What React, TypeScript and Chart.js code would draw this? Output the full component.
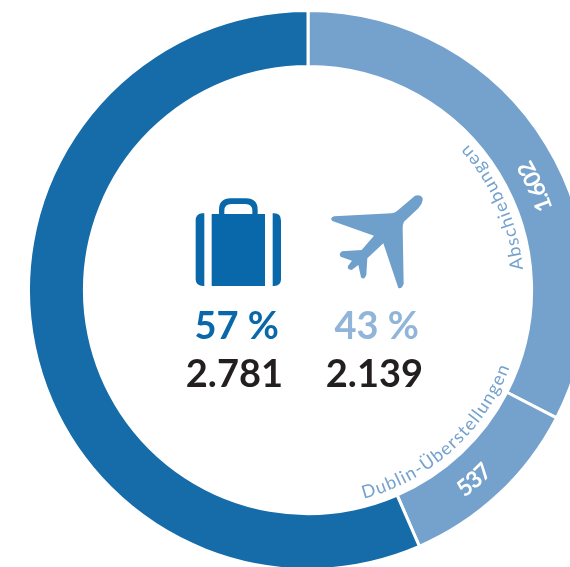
import React, { useEffect, useRef } from "react";
import { Chart, registerables } from "chart.js";

Chart.register(...registerables);

const categories = ["Abschiebungen", "Dublin-Überstellungen", "Freiwillige Ausreisen"];
const values = [1602, 537, 2781];
const valueLabels = ["1.602", "537"];
const colors = ["#74a2cd", "#74a2cd", "#156ca8"];
const percentLabels = ["57 %", "43 %"];
const totalLabels = ["2.781", "2.139"];

const CX = 308;
const CY = 290;
const CANVAS = 562;
const FONT = "Lato, 'Open Sans', sans-serif";

function arc(r: number, fromDeg: number, toDeg: number) {
  const p = (d: number) => {
    const a = (d * Math.PI) / 180;
    return `${(CX + r * Math.sin(a)).toFixed(2)} ${(CY - r * Math.cos(a)).toFixed(2)}`;
  };
  return `M ${p(fromDeg)} A ${r} ${r} 0 0 0 ${p(toDeg)}`;
}

export default function App() {
  const ref = useRef<HTMLCanvasElement>(null);
  useEffect(() => {
    document.body.style.margin = "0";
    const chart = new Chart(ref.current!, {
      type: "doughnut",
      data: {
        labels: categories,
        datasets: [
          { data: values, backgroundColor: colors, borderColor: "#ffffff", borderWidth: 3 },
        ],
      },
      options: {
        animation: false,
        responsive: false,
        cutout: "80%",
        rotation: 0,
        layout: { padding: 0 },
        plugins: { legend: { display: false }, tooltip: { enabled: false } },
      },
    });
    return () => chart.destroy();
  }, []);

  const curved = [
    { id: "a", r: 216, from: 84.5, to: 40, text: categories[0], size: 18, weight: 400, fill: "#74a2cd", len: 139 },
    { id: "b", r: 216, from: 165, to: 105, text: categories[1], size: 18, weight: 400, fill: "#74a2cd", len: 203 },
    { id: "c", r: 258, from: 71.5, to: 45, text: valueLabels[0], size: 23, weight: 700, fill: "#ffffff", len: 54 },
    { id: "d", r: 260, from: 143, to: 120, text: valueLabels[1], size: 23, weight: 700, fill: "#ffffff", len: 38 },
  ];

  return (
    <div style={{ position: "fixed", left: 0, top: 0, width: 570, height: 567, overflow: "hidden", background: "#fff" }}>
      <canvas
        ref={ref}
        width={CANVAS}
        height={CANVAS}
        style={{ position: "absolute", left: CX - CANVAS / 2, top: CY - CANVAS / 2, width: CANVAS, height: CANVAS }}
      />
      <svg width={570} height={567} style={{ position: "absolute", left: 0, top: 0 }}>
        <defs>
          {curved.map((c) => (
            <path key={c.id} id={`arc-${c.id}`} d={arc(c.r, c.from, c.to)} fill="none" />
          ))}
        </defs>
        {curved.map((c) => (
          <text key={c.id} fontFamily={FONT} fontSize={c.size} fontWeight={c.weight} fill={c.fill}>
            <textPath href={`#arc-${c.id}`} textLength={c.len} lengthAdjust="spacing">
              {c.text}
            </textPath>
          </text>
        ))}
        <g transform="translate(170 180) scale(0.33333)" fill="#0868a9">
          <path d="M103 100 H95 Q77 102 77 122 V298 Q77 318 100 318 H103 Z" />
          <path d="M308 100 H312 Q333 100 333 122 V298 Q333 318 312 318 H308 Z" />
          <path fillRule="evenodd" d="M125 102 H147 V90 Q147 55 182 55 H228 Q263 55 263 90 V102 H285 V318 H125 Z M163 102 H247 V92 Q247 72 226 72 H184 Q163 72 163 92 Z" />
        </g>
        <g transform="translate(170 180) scale(0.33333)" fill="#6fa0cc">
          <path d="M735 47 Q752 42 758 55 Q760 68 745 85 L702 125 Q698 132 698 145 L701 312 Q695 328 685 324 L640 190 L592 235 L589 285 Q582 302 573 292 L565 255 L545 270 Q530 268 534 258 L546 242 L512 230 Q505 222 516 214 L575 210 L612 167 L487 123 Q478 115 492 109 L665 100 Q675 98 682 92 Z" />
        </g>
        <text x={279} y={339} textAnchor="end" fontFamily={FONT} fontSize={38} fontWeight={700} fill="#0868a9">{percentLabels[0]}</text>
        <text x={419} y={339} textAnchor="end" fontFamily={FONT} fontSize={38} fontWeight={700} fill="#90b5d9">{percentLabels[1]}</text>
        <text x={283} y={387} textAnchor="end" fontFamily={FONT} fontSize={38} fontWeight={700} fill="#231f20">{totalLabels[0]}</text>
        <text x={423} y={387} textAnchor="end" fontFamily={FONT} fontSize={38} fontWeight={700} fill="#231f20">{totalLabels[1]}</text>
      </svg>
    </div>
  );
}
